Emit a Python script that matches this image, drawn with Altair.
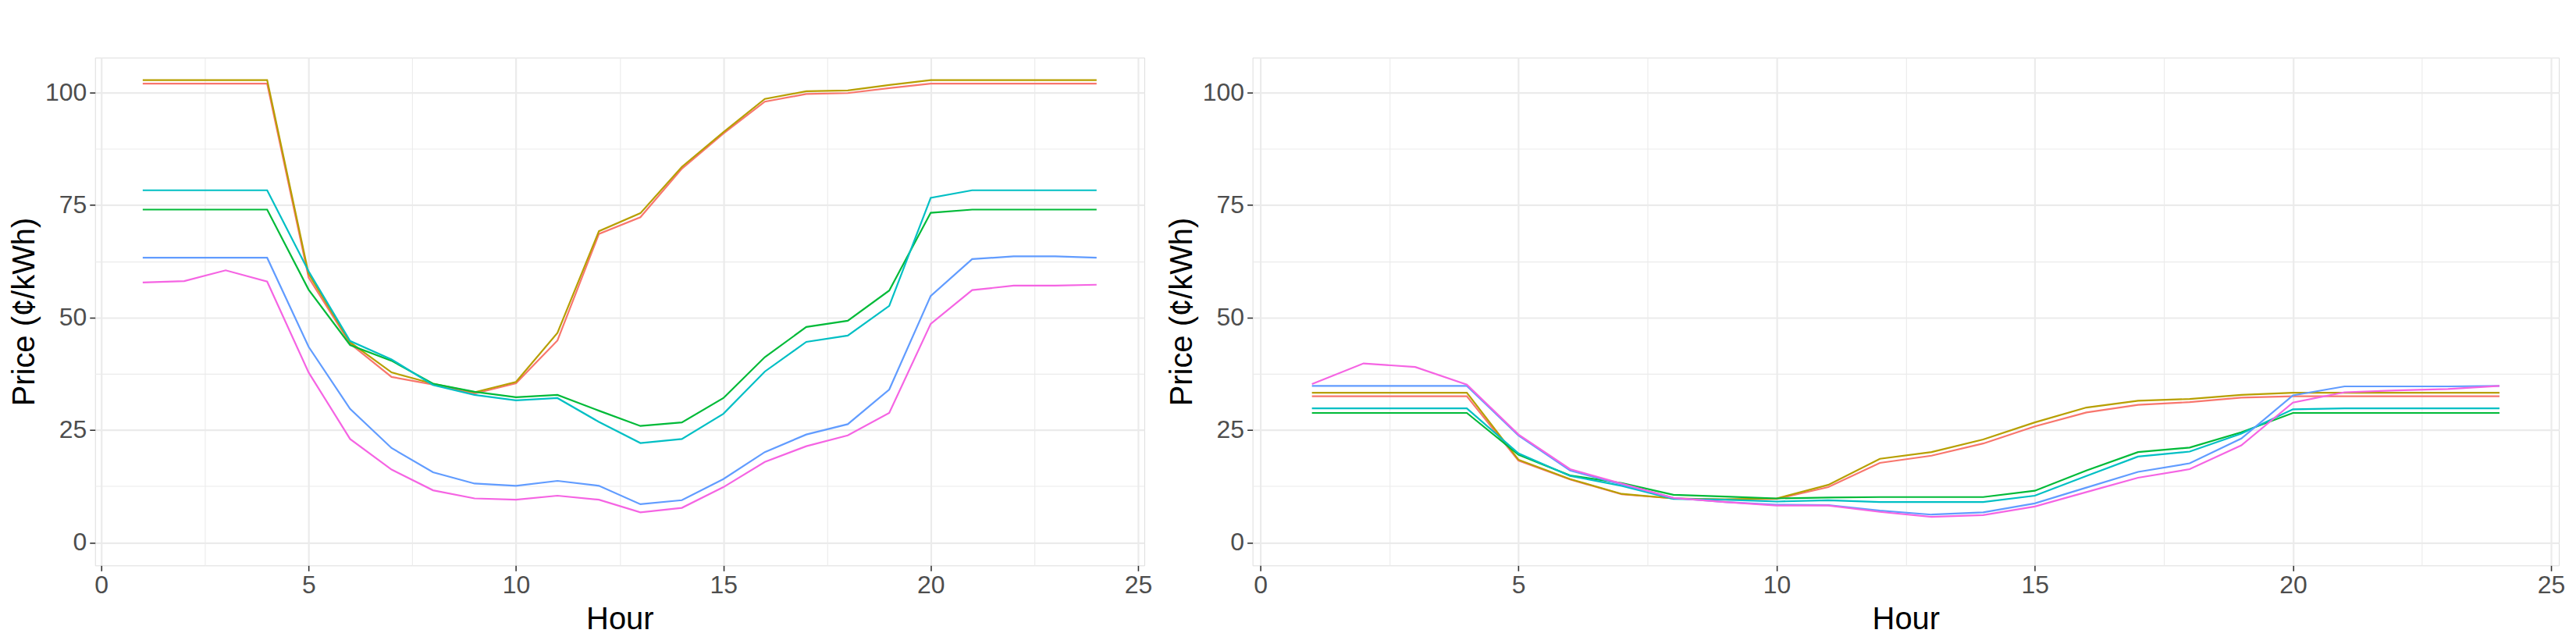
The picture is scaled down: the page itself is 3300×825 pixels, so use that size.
import altair as alt
import pandas as pd

hours = list(range(1, 25))
series_names = ["S1", "S2", "S3", "S4", "S5", "S6"]
series_colors = ["#F8766D", "#B79F00", "#00BA38", "#00BFC4", "#619CFF", "#F564E3"]

# Left panel
left_s1 = [102.0, 102.0, 102.0, 102.0, 58.9, 44.2, 36.8, 35.1, 33.1, 35.4, 44.9, 68.6,
           72.3, 83.1, 90.9, 98.0, 99.7, 99.9, 101.0, 102.0, 102.0, 102.0, 102.0, 102.0]
left_s2 = [102.8, 102.8, 102.8, 102.8, 59.7, 44.5, 37.8, 35.3, 33.4, 35.7, 46.6, 69.2,
           73.2, 83.5, 91.2, 98.6, 100.3, 100.5, 101.7, 102.8, 102.8, 102.8, 102.8, 102.8]
left_s3 = [74.0, 74.0, 74.0, 74.0, 56.2, 43.9, 40.4, 35.3, 33.5, 32.3, 32.8, 29.3,
           25.9, 26.7, 32.1, 41.2, 47.9, 49.3, 56.0, 73.3, 74.0, 74.0, 74.0, 74.0]
left_s4 = [78.3, 78.3, 78.3, 78.3, 60.3, 44.8, 40.7, 35.0, 32.8, 31.6, 32.1, 26.8,
           22.1, 23.0, 28.6, 38.0, 44.6, 46.0, 52.6, 76.6, 78.3, 78.3, 78.3, 78.3]
left_s5 = [63.3, 63.3, 63.3, 63.3, 43.5, 29.7, 21.0, 15.6, 13.1, 12.6, 13.7, 12.6,
           8.5, 9.4, 14.1, 20.1, 24.0, 26.3, 34.0, 54.8, 63.0, 63.6, 63.6, 63.3]
left_s6 = [57.8, 58.1, 60.5, 58.0, 37.8, 23.0, 16.2, 11.6, 9.8, 9.5, 10.4, 9.5,
           6.7, 7.7, 12.3, 17.9, 21.4, 23.8, 28.8, 48.6, 56.1, 57.1, 57.1, 57.3]

# Right panel
right_s1 = [32.5, 32.5, 32.5, 32.5, 18.2, 14.0, 10.7, 9.8, 9.5, 9.7, 12.3, 17.7,
            19.3, 22.0, 25.8, 28.9, 30.6, 31.2, 32.2, 32.5, 32.5, 32.5, 32.5, 32.5]
right_s2 = [33.3, 33.3, 33.3, 33.3, 18.4, 14.1, 10.8, 9.8, 9.6, 9.8, 12.8, 18.6,
            20.1, 22.9, 26.7, 30.0, 31.5, 31.9, 32.8, 33.3, 33.3, 33.3, 33.3, 33.3]
right_s3 = [28.8, 28.8, 28.8, 28.8, 19.5, 14.9, 13.2, 10.6, 10.2, 9.8, 10.0, 10.1,
            10.1, 10.1, 11.5, 16.0, 20.1, 21.1, 24.5, 28.8, 28.8, 28.8, 28.8, 28.8]
right_s4 = [29.8, 29.8, 29.8, 29.8, 19.8, 14.8, 12.6, 9.7, 9.5, 9.1, 9.4, 9.0,
            9.0, 9.0, 10.4, 14.8, 19.1, 20.2, 24.2, 29.6, 29.8, 29.8, 29.8, 29.8]
right_s5 = [34.8, 34.8, 34.8, 34.8, 23.8, 16.0, 12.9, 9.9, 9.0, 8.4, 8.3, 7.1,
            6.2, 6.7, 8.7, 12.2, 15.7, 17.6, 23.1, 32.7, 34.7, 34.7, 34.7, 34.8]
right_s6 = [35.2, 39.8, 39.0, 35.1, 24.0, 16.3, 13.1, 9.9, 9.0, 8.2, 8.2, 6.8,
            5.7, 6.1, 8.0, 11.2, 14.4, 16.3, 21.6, 31.1, 33.4, 33.8, 34.1, 34.8]

y_ticks = [0, 12.5, 25, 37.5, 50, 62.5, 75, 87.5, 100]
x_ticks = [0, 2.5, 5, 7.5, 10, 12.5, 15, 17.5, 20, 22.5, 25]
y_domain = [-5.1, 107.8]
x_domain = [-0.15, 25.15]


def make_df(series_list):
    rows = []
    for name, vals in zip(series_names, series_list):
        for h, v in zip(hours, vals):
            rows.append({"series": name, "Hour": h, "Price": v})
    return pd.DataFrame(rows)


left_df = make_df([left_s1, left_s2, left_s3, left_s4, left_s5, left_s6])
right_df = make_df([right_s1, right_s2, right_s3, right_s4, right_s5, right_s6])

FONT = "Liberation Sans"


def axis_common(major_test):
    return dict(
        labelFont=FONT,
        labelFontSize=32,
        labelColor="#4D4D4D",
        titleFont=FONT,
        titleFontSize=40,
        titleFontWeight="normal",
        titleColor="#000000",
        domain=False,
        gridColor="#EBEBEB",
        gridWidth={"condition": {"test": major_test, "value": 2.2}, "value": 1.1},
        tickColor="#333333",
        tickWidth=1.6,
        tickSize=7,
        tickOpacity={"condition": {"test": major_test, "value": 1}, "value": 0},
        labelFlush=False,
        labelOverlap=False,
    )


def panel(df, width):
    x_test = "datum.value % 5 === 0"
    y_test = "datum.value % 25 === 0"
    return alt.Chart(df).mark_line(strokeWidth=2.2).encode(
        x=alt.X("Hour:Q",
                scale=alt.Scale(domain=x_domain, nice=False, zero=False),
                axis=alt.Axis(values=x_ticks, title="Hour",
                              labelExpr="datum.value % 5 === 0 ? datum.label : ''",
                              labelPadding=3, titlePadding=8,
                              **axis_common(x_test))),
        y=alt.Y("Price:Q",
                scale=alt.Scale(domain=y_domain, nice=False, zero=False),
                axis=alt.Axis(values=y_ticks, title="Price (¢/kWh)",
                              labelExpr="datum.value % 25 === 0 ? datum.label : ''",
                              labelPadding=4, titlePadding=6,
                              **axis_common(y_test))),
        color=alt.Color("series:N",
                        scale=alt.Scale(domain=series_names, range=series_colors),
                        legend=None),
    ).properties(width=width, height=652)


left = panel(left_df, 1347)
right = panel(right_df, 1677)

chart = alt.hconcat(left, right, spacing=139, bounds="flush").properties(
    padding={"top": 64, "left": 3, "right": 5, "bottom": 5}
).configure_view(stroke="#333333", strokeWidth=1.6).configure(background="white")

chart.save("out.html", embed_options={"renderer": "svg", "actions": False})
